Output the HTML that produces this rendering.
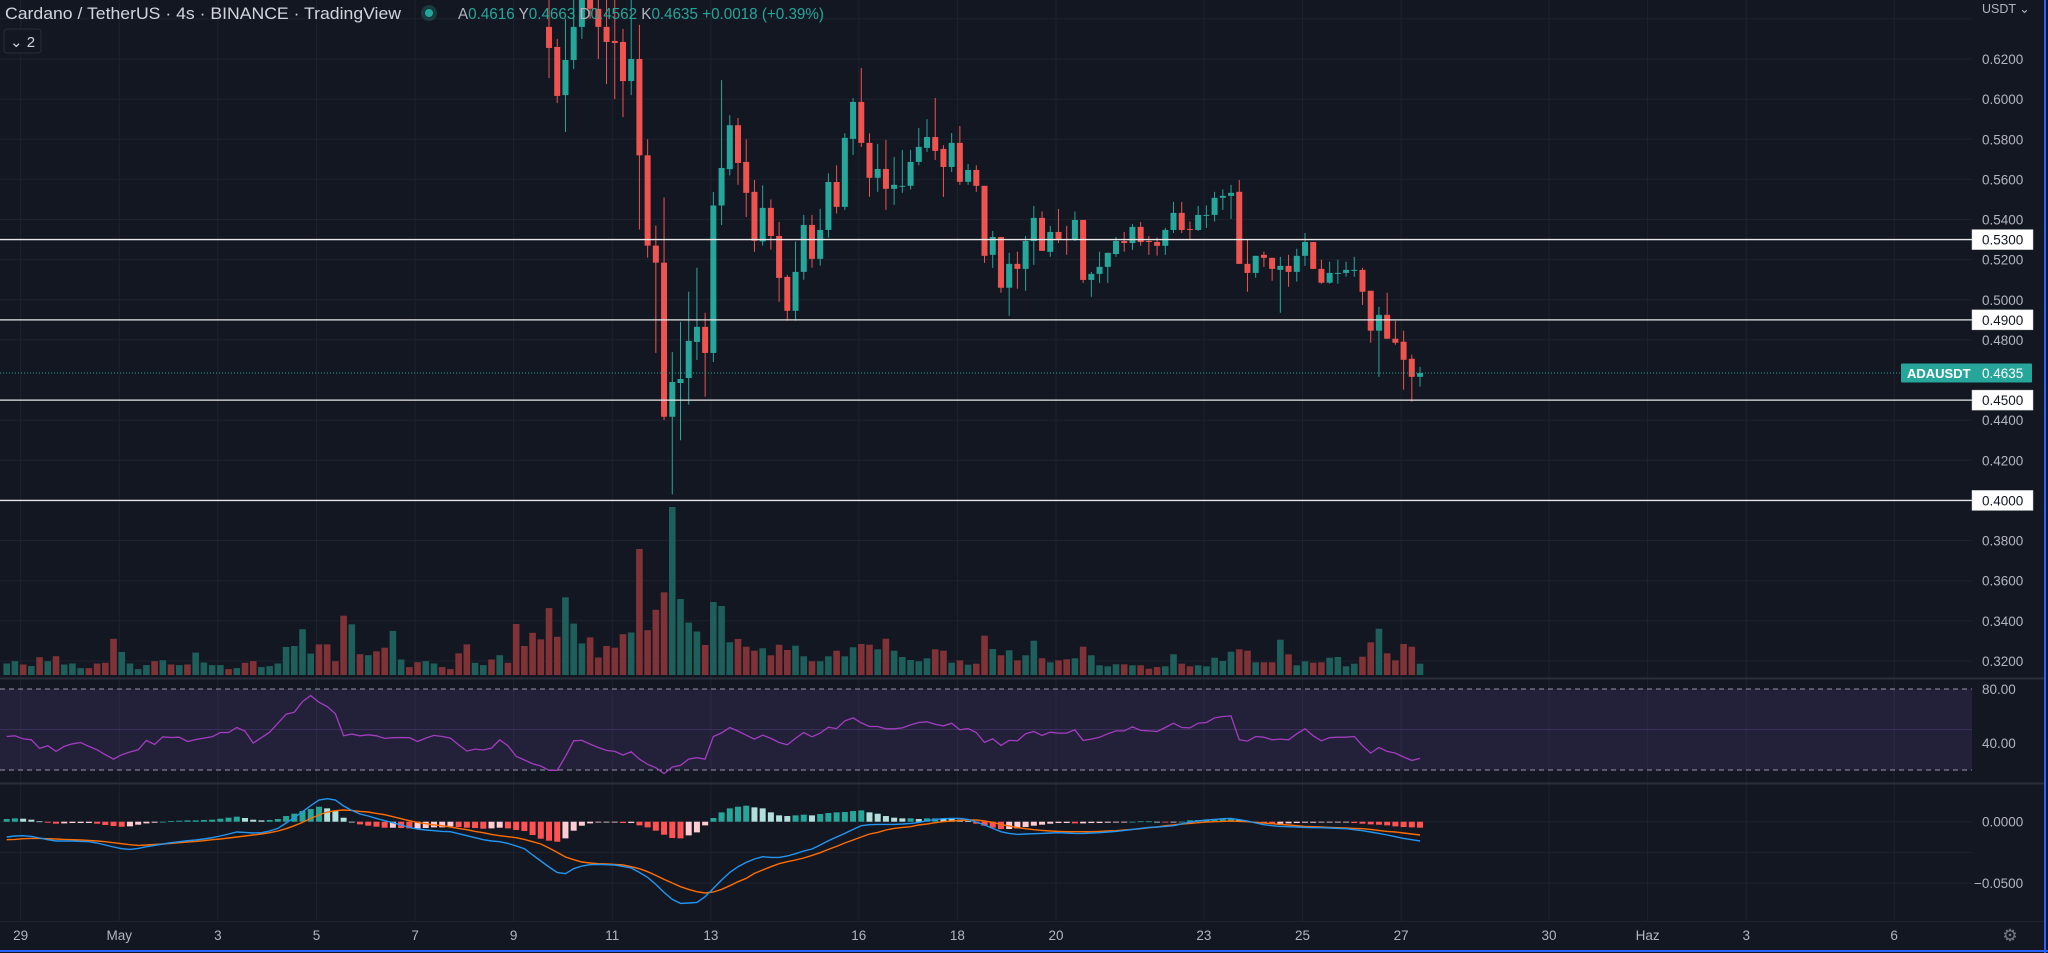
<!DOCTYPE html>
<html><head><meta charset="utf-8"><style>
html,body{margin:0;padding:0;background:#131722;overflow:hidden}
svg{display:block;font-family:"Liberation Sans",sans-serif}
</style></head><body>
<svg id="chart" width="2048" height="953" viewBox="0 0 2048 953" xmlns="http://www.w3.org/2000/svg">
<defs><clipPath id="pclip"><rect x="0" y="0" width="1972" height="678"/></clipPath></defs>
<rect x="0" y="0" width="2048" height="953" fill="#131722"/>
<g id="grid"></g>
<g id="rsiPane"></g>
<g id="volumes" clip-path="url(#pclip)"></g>
<g id="candles" clip-path="url(#pclip)"></g>
<g id="levels"></g>
<g id="macd"></g>
<g id="axes"></g>
<g>
 <text x="5" y="19" font-size="16.5" fill="#d1d4dc" textLength="396" lengthAdjust="spacingAndGlyphs">Cardano / TetherUS · 4s · BINANCE · TradingView</text>
 <circle cx="429" cy="13" r="8" fill="#26a69a" fill-opacity="0.25"/>
 <circle cx="429" cy="13" r="4" fill="#26a69a"/>
 <text x="458" y="19" font-size="16" fill="#26a69a" textLength="366" lengthAdjust="spacingAndGlyphs"><tspan fill="#b2b5be">A</tspan>0.4616 <tspan fill="#b2b5be">Y</tspan>0.4663 <tspan fill="#b2b5be">D</tspan>0.4562 <tspan fill="#b2b5be">K</tspan>0.4635 +0.0018 (+0.39%)</text>
 <rect x="4" y="29" width="37" height="24" rx="3" fill="#131722" stroke="#2a2e39"/>
 <text x="10" y="47" font-size="15" fill="#d1d4dc">⌄ 2</text>
</g>
</svg>
<script>
// ---- data ----
const firstK = 66;
const opens  = [.636,.626,.602,.6195,.636,.66,.645,.636,.629,.6285,.609,.62,.572,.527,.5185,.4417,.4585,.461,.479,.4865,.4735,.547,.5651,.587,.5687,.5538,.5291,.5458,.5318,.5114,.4945,.5139,.5373,.5204,.5348,.5587,.5463,.5802,.5986,.5782,.5608,.5652,.5553,.5565,.5568,.5687,.5757,.5811,.5752,.5662,.5782,.5588,.5647,.5568,.5224,.5313,.506,.5179,.5154,.5293,.5408,.5239,.5338,.5303,.5298,.5398,.5099,.5129,.5164,.5228,.5293,.5283,.5363,.5293,.5288,.5269,.5348,.5433,.5353,.5348,.5418,.5423,.5508,.5518,.5538,.5179,.5134,.5224,.5209,.5149,.5169,.5139,.5219,.5288,.5154,.5085,.5129,.5134,.5144,.5149,.5045,.4846,.4925,.4806,.4791,.4706,.4616];
const highs  = [.66,.63,.64,.66,.67,.67,.66,.66,.65,.635,.65,.637,.58,.537,.551,.474,.489,.504,.516,.4935,.5537,.6095,.592,.5906,.58,.5597,.557,.55,.5388,.5124,.529,.5423,.5423,.5453,.563,.567,.583,.6006,.6155,.583,.5777,.5797,.5712,.5747,.5747,.5856,.59,.6006,.577,.5831,.5866,.5677,.567,.5568,.5343,.5313,.5234,.524,.5318,.5468,.544,.5368,.5453,.5368,.544,.5398,.5139,.524,.5234,.5313,.5338,.5378,.5388,.5318,.531,.5358,.5488,.5488,.539,.5468,.547,.5538,.555,.5573,.5597,.5298,.5219,.524,.5209,.5214,.5224,.5254,.5333,.5288,.52,.519,.52,.519,.5214,.5159,.5045,.4965,.5035,.4895,.4846,.4726,.4666];
const lows   = [.6105,.598,.5836,.615,.63,.64,.62,.6075,.60,.591,.602,.535,.521,.4735,.44,.403,.43,.4477,.47,.4517,.469,.5373,.562,.5573,.5413,.5239,.527,.525,.499,.4895,.4895,.51,.516,.517,.531,.543,.5447,.5722,.5762,.5513,.5538,.5448,.5473,.5533,.555,.567,.5737,.5697,.5513,.5637,.5573,.5573,.5538,.5184,.5159,.5035,.492,.5055,.5045,.5174,.5244,.5214,.5283,.5224,.5293,.5084,.5015,.5084,.5084,.5214,.524,.5249,.527,.5224,.522,.5224,.5333,.5333,.5298,.5343,.5358,.539,.5448,.5403,.5179,.504,.511,.5164,.5095,.4935,.5065,.509,.5169,.5154,.508,.508,.508,.5115,.5115,.4975,.4786,.4616,.4806,.4776,.4552,.4492,.4567];
const closes = [.6255,.6016,.6195,.636,.66,.645,.636,.6285,.628,.609,.62,.572,.527,.5185,.4417,.459,.4605,.4795,.4865,.4735,.547,.5657,.587,.5682,.5533,.5294,.5458,.5318,.5109,.4945,.5139,.5373,.5204,.5348,.5587,.5463,.5807,.5986,.5782,.5608,.5652,.5553,.5573,.5568,.5687,.5762,.5811,.5742,.5662,.5782,.5588,.5647,.5568,.5219,.5313,.506,.5179,.5154,.5293,.5408,.5244,.5338,.5298,.5298,.5398,.5099,.5129,.5164,.5234,.5293,.5283,.5363,.5288,.5288,.5269,.5348,.5433,.5348,.5348,.5423,.5423,.5508,.5518,.5533,.5179,.5134,.5219,.5209,.5154,.5169,.5139,.5219,.5288,.5154,.5085,.5134,.5134,.5149,.5149,.504,.4846,.4925,.4806,.4786,.4701,.4616,.4635];
const volumes = [11.5,13.8,10.5,8.9,17.8,13.8,18.8,10.5,11.5,6.9,6.9,11.5,12.2,36.2,23,11.5,5.9,9.9,13.8,14.8,10.5,9.9,10.5,22.4,12.5,9.9,9.9,5.9,6.9,12.2,13.8,7.9,8.9,11.5,28,29,45.8,21.4,30.6,30.6,13.8,59.3,50.7,20.8,19.8,23.7,27.3,44.1,15.5,7.9,12.8,13.8,11.5,7.9,5.9,21.7,30.6,12.2,9.9,15.5,19.8,12.2,51,29,42.2,35.6,66.9,38.2,77.7,51.4,31.6,37.6,17.5,29,27.3,40.8,42.5,126,44.8,65.2,82.7,168,76,52.4,43.5,30,73,69,32.7,36,28.3,24.3,26.7,19.7,30.3,25,29.3,18.7,13.7,13.7,18.7,24.3,18.7,27.7,31,30.3,25.7,36.3,24.3,18,15,13.7,16.7,25.7,24.3,12.3,14.7,10.3,11.3,39.3,26,19.7,24.7,14.7,19.7,34.3,16.7,12.7,14.7,15.7,16.7,28.3,19.7,9.7,8.7,10.7,10.7,9.7,9.7,6.3,8,8.7,20.7,11.3,8.7,9.7,8.7,17.3,14,23.3,25.7,24.3,12.7,12.7,12.7,35.3,20.7,9.7,13.7,12.3,12.7,17.3,18,8.7,11.3,18.3,32.7,46.3,21.7,14.7,31,28.3,11.3];
const volUpEarly = [1,1,0,1,0,1,0,1,1,1,0,0,0,0,1,1,1,1,0,1,0,1,0,1,1,1,1,0,1,0,0,1,1,1,1,1,1,1,0,0,0,0,1,0,1,0,0,1,1,0,0,1,1,0,0,0,0,1,1,0,1,0,0,0,0,0];
const rsiValues = [44.8,45.3,43.1,42.4,36.0,38.0,33.8,37.5,39.4,40.4,37.5,35.0,31.3,28.1,31.3,33.3,35.0,41.9,38.9,44.6,44.1,44.3,41.1,42.6,43.6,44.6,47.8,47.8,51.5,48.8,39.9,43.9,48.0,54.7,61.3,62.8,70.7,75.1,70.2,67.0,61.6,45.3,46.6,45.3,46.1,45.3,43.4,43.9,44.1,43.9,41.1,43.6,45.6,44.8,43.6,38.7,34.0,35.5,34.8,36.2,42.4,38.0,30.1,27.4,24.7,23.0,19.8,19.8,30.1,41.6,41.9,39.2,36.7,34.5,33.8,31.1,33.5,28.1,24.2,21.7,17.3,22.2,23.4,28.1,29.1,28.1,44.8,47.5,51.5,48.8,45.8,42.9,45.8,43.4,40.4,38.7,43.4,47.8,44.6,47.3,51.7,50.7,56.4,58.6,54.9,52.2,52.2,50.5,50.5,51.2,53.4,55.2,55.7,53.9,52.7,54.7,49.8,50.7,47.8,40.4,43.1,38.2,41.9,41.6,46.8,48.5,45.6,48.0,47.3,47.3,49.8,41.9,42.9,44.3,46.8,49.0,49.0,52.0,49.3,49.0,48.5,51.5,54.7,51.5,51.2,54.7,55.2,58.6,59.6,60.1,42.4,41.4,44.8,44.3,42.4,42.9,42.4,46.8,50.5,45.3,41.6,43.9,44.3,44.3,44.8,38.0,32.5,36.7,33.8,32.5,29.6,27.1,28.6];
// MACD in units of 0.05/184
const macdZy = [156,153,152,154,159,164,168,168,168,169,170,174,180,186,191,193,190,185,181,177,173,170,167,165,162,158,153,147,141,142,144,143,138,130,114,98,80,62,45,41,45,63,76,87,93,100,107,113,120,127,132,135,137,139,140,146,152,158,164,168,170,175,183,191,210,228,246,262,266,251,243,239,238,239,240,244,249,262,277,298,322,343,355,354,352,335,310,285,262,245,232,222,215,217,217,213,206,198,192,180,167,156,145,133,122,119,118,118,118,117,115,112,107,103,101,100,100,103,111,120,130,140,145,148,147,146,145,144,143,144,145,145,144,143,141,139,136,133,130,127,126,124,122,117,111,108,105,103,101,100,104,108,114,119,122,124,125,126,127,128,128,129,130,131,134,137,141,145,150,155,160,164,168];
const signalZy = [164,163,161,160,160,161,162,163,164,165,166,168,170,173,176,179,181,180,178,177,175,173,171,169,167,164,162,159,156,153,150,147,143,138,131,122,112,100,90,81,77,75,76,79,81,85,89,95,101,107,112,116,120,122,126,130,134,139,143,148,152,155,158,163,170,177,189,202,216,224,231,234,236,237,238,240,245,251,260,271,283,294,305,313,320,324,321,313,302,290,280,265,255,245,236,230,225,219,211,203,193,184,174,165,156,147,142,135,130,127,125,120,117,113,110,108,106,105,105,108,112,118,123,128,131,134,136,138,139,140,140,140,140,139,138,137,135,133,131,128,126,122,120,117,115,113,111,110,109,108,109,110,112,114,116,118,120,122,124,125,126,127,128,129,130,131,133,136,139,141,144,147,150];
const macdLine = macdZy.map(z => 110 - z);
const signalLine = signalZy.map(z => 110 - z);
const priceTicks = [0.62,0.60,0.58,0.56,0.54,0.52,0.50,0.48,0.44,0.42,0.38,0.36,0.34,0.32];
const priceTickLabels = ["0.6200","0.6000","0.5800","0.5600","0.5400","0.5200","0.5000","0.4800","0.4400","0.4200","0.3800","0.3600","0.3400","0.3200"];
const levelPrices = [0.53,0.49,0.45,0.40];
const levelLabels = ["0.5300","0.4900","0.4500","0.4000"];
const lastPrice = 0.4635;
const rsiTicks = [80,40];
const rsiTickLabels = ["80.00","40.00"];
const macdTicks = [0,-184];
const macdTickLabels = ["0.0000","\u22120.0500"];
const timeTickIdx = [1.7,13.7,25.7,37.7,49.7,61.7,73.7,85.7,103.7,115.7,127.7,145.7,157.7,169.7,187.7,199.7,211.7,229.7];
const timeTickLabels = ["29","May","3","5","7","9","11","13","16","18","20","23","25","27","30","Haz","3","6"];

// ---- axes ----
const xK = k => 6.7 + k*8.217;
const yP = p => 59 + (0.62 - p)/0.02*40.13;
const yV = v => 675 - v;
const yR = v => 689 + (80 - v)/60*81;
const yM = v => 821.7 - v/3;

const NS = "http://www.w3.org/2000/svg";
function mk(parent, tag, attrs){
  const el = document.createElementNS(NS, tag);
  for (const a in attrs) el.setAttribute(a, attrs[a]);
  parent.appendChild(el);
  return el;
}
const G = id => document.getElementById(id);
const grid = G('grid'), axes = G('axes');

// grid
priceTicks.forEach(p => {
  const l = mk(grid,'line',{x1:0,x2:1972,y1:yP(p),y2:yP(p),stroke:'#1e222d','stroke-width':1});
  
  
});
[0.64].forEach(p=>{ mk(grid,'line',{x1:0,x2:1972,y1:yP(p),y2:yP(p),stroke:'#1e222d'}); });
timeTickIdx.forEach(k => {
  const l = mk(grid,'line',{x1:xK(k),x2:xK(k),y1:0,y2:921,stroke:'#1e222d','stroke-width':1});
  
  
});
[yM(0), yM(-92), yM(-184)].forEach(y=>{ mk(grid,'line',{x1:0,x2:1972,y1:y,y2:y,stroke:'#1e222d'}); });

// RSI pane
const rp = G('rsiPane');
const band = mk(rp,'rect',{x:0,y:yR(80),width:1972,height:yR(20)-yR(80),fill:'#7e57c2','fill-opacity':0.15});


[80,20].forEach(v=>{
  const l = mk(rp,'line',{x1:0,x2:1972,y1:yR(v),y2:yR(v),stroke:'#9598a1','stroke-dasharray':'5 4','stroke-width':1});
  
  
});
mk(rp,'line',{x1:0,x2:1972,y1:yR(50),y2:yR(50),stroke:'#7e57c2','stroke-opacity':0.25});
const rpts = rsiValues.map((v,k)=>xK(k).toFixed(1)+','+yR(v).toFixed(1)).join(' ');
const rline = mk(rp,'polyline',{points:rpts,fill:'none',stroke:'#a23dbf','stroke-width':1.3});



// volumes
const vg = G('volumes');
volumes.forEach((v,k)=>{
  let up;
  if (k < firstK) up = volUpEarly[k] === 1;
  else up = closes[k-firstK] >= opens[k-firstK];
  const r = mk(vg,'rect',{x:xK(k)-3.3,y:yV(v),width:6.6,height:v,fill:up?'#1f5f5b':'#7f3336'});
  
  
});

// candles
const cg = G('candles');
opens.forEach((o,i)=>{
  const k = i + firstK, c = closes[i], x = xK(k);
  const up = c >= o, col = up ? '#26a69a' : '#ef5350';
  const w = mk(cg,'line',{x1:x,x2:x,y1:yP(highs[i]),y2:yP(lows[i]),stroke:col,'stroke-width':1});
  
  
  const top = yP(Math.max(o,c)), bot = yP(Math.min(o,c));
  const b = mk(cg,'rect',{x:x-3,y:top,width:6,height:Math.max(1,bot-top),fill:col});
  
  
});

// last price line
const lp = mk(cg,'line',{x1:0,x2:1972,y1:yP(lastPrice),y2:yP(lastPrice),stroke:'#26a69a','stroke-dasharray':'1 2','stroke-width':1});



// levels
const lg = G('levels');
levelPrices.forEach((p,i)=>{
  const y = yP(p);
  const l = mk(lg,'line',{x1:0,x2:1972,y1:y,y2:y,stroke:'#e8e8e8','stroke-width':1.3});
  
  
  const r = mk(lg,'rect',{x:1972,y:y-10,width:61,height:20,fill:'#ffffff',stroke:'#cccccc','stroke-width':0.5});
  
  
  const t = mk(lg,'text',{x:1982,y:y+5,'font-size':13.5,fill:'#131722'});
  t.textContent = levelLabels[i];
  
  
});

// MACD
const mg = G('macd');
macdLine.forEach((m,k)=>{
  const h = m - signalLine[k];
  const prev = k>0 ? macdLine[k-1]-signalLine[k-1] : h;
  let col;
  if (h >= 0) col = h >= prev ? '#26a69a' : '#b2dfdb';
  else col = h < prev ? '#ff5252' : '#ffcdd2';
  const y0 = yM(0), y1 = yM(h);
  const r = mk(mg,'rect',{x:xK(k)-3,y:Math.min(y0,y1),width:6,height:Math.max(0.8,Math.abs(y1-y0)),fill:col});
  
  
});
const sl = mk(mg,'polyline',{points:signalLine.map((v,k)=>xK(k).toFixed(1)+','+yM(v).toFixed(1)).join(' '),fill:'none',stroke:'#ff6d00','stroke-width':1.4});


const ml = mk(mg,'polyline',{points:macdLine.map((v,k)=>xK(k).toFixed(1)+','+yM(v).toFixed(1)).join(' '),fill:'none',stroke:'#2196f3','stroke-width':1.4});



// separators
[678.5, 783.5].forEach(y=>{
  const l = mk(axes,'line',{x1:0,x2:2046,y1:y,y2:y,stroke:'#2a2e39','stroke-width':2});
  
  
});
mk(axes,'line',{x1:0,x2:2046,y1:921.5,y2:921.5,stroke:'#1e222d'});

// price axis labels
priceTicks.forEach((p,i)=>{
  const t = mk(axes,'text',{x:1982,y:yP(p)+5,'font-size':13.5,fill:'#b2b5be'});
  t.textContent = priceTickLabels[i];
  
  
});
const ut = mk(axes,'text',{x:1982,y:13,'font-size':12.5,fill:'#b2b5be'});
ut.textContent = 'USDT   ⌄';



// last price badge
const lb = mk(axes,'rect',{x:1901,y:yP(lastPrice)-9.5,width:131,height:19,fill:'#26a69a',rx:1});


const lt1 = mk(axes,'text',{x:1907,y:yP(lastPrice)+5,'font-size':13,fill:'#ffffff','font-weight':'bold'});
lt1.textContent = 'ADAUSDT';


const lt2 = mk(axes,'text',{x:1982,y:yP(lastPrice)+5,'font-size':13.5,fill:'#ffffff'});
lt2.textContent = '0.4635';



// rsi labels
rsiTicks.forEach((v,i)=>{
  const t = mk(axes,'text',{x:1982,y:yR(v)+5,'font-size':13.5,fill:'#b2b5be'});
  t.textContent = rsiTickLabels[i];
  
  
});
// macd labels
macdTicks.forEach((v,i)=>{
  const t = mk(axes,'text',{x: i===0?1982:1974,y:yM(v)+5,'font-size':13.5,fill:'#b2b5be'});
  t.textContent = macdTickLabels[i];
  
  
});
// time labels
timeTickIdx.forEach((k,i)=>{
  const t = mk(axes,'text',{x:xK(k),y:940,'font-size':13.5,fill:'#b2b5be','text-anchor':'middle'});
  t.textContent = timeTickLabels[i];
  
  
});
// settings gear
const gear = mk(axes,'text',{x:2010,y:941,'font-size':17,fill:'#787b86','text-anchor':'middle'});
gear.textContent = '⚙';


// frame
const fr = mk(axes,'line',{x1:2045,x2:2045,y1:0,y2:953,stroke:'#2962ff','stroke-width':2});


const fb = mk(axes,'line',{x1:0,x2:2048,y1:951,y2:951,stroke:'#2962ff','stroke-width':2});


</script>
</body></html>
